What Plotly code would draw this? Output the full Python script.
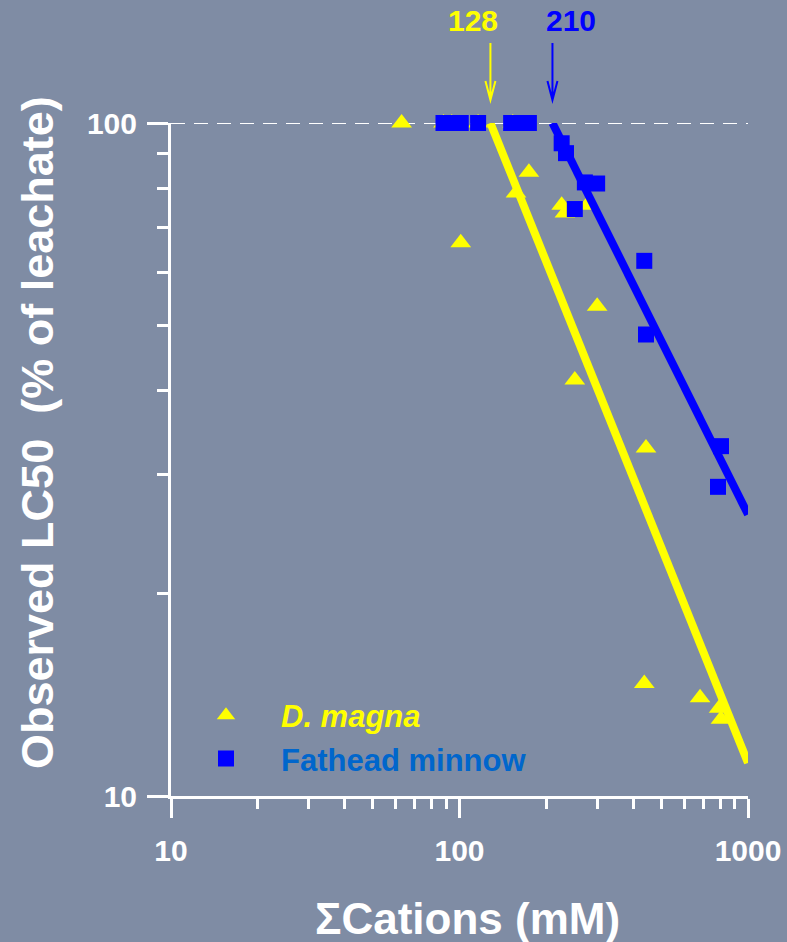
import numpy as np
import plotly.graph_objects as go

# ---------------- data ----------------
# D. magna observed LC50 (% of leachate) vs sum of cations (mM)
dm_x = [63, 88, 94, 116, 153, 101, 157, 174, 226, 232, 277, 300, 251, 443, 437, 682, 794, 806]
dm_y = [100, 100, 100, 100, 100, 66.4, 78.7, 84.5, 75.5, 73.5, 75.5, 53.4, 41.5, 32.9, 14.7, 14.0, 13.5, 13.0]

# Fathead minnow
fm_x = [88, 94, 101, 116, 151, 162, 174, 226, 234, 272, 300, 251, 437, 443, 806, 787]
fm_y = [100, 100, 100, 100, 100, 100, 100, 93.3, 90.2, 81.6, 81.3, 74.5, 62.4, 48.5, 33.1, 28.8]

# fitted lines (breakpoint -> end)
dm_fit_x = [128, 1000]
dm_fit_y = [100, 11.2]
fm_fit_x = [210, 1000]
fm_fit_y = [100, 26.2]

# breakpoints marked with arrows
break_vals = [128, 210]
break_labels = ["128", "210"]
break_colors = ["#FFFF00", "#0000FF"]
break_label_shift = [-17, 19]

x_tickvals = [10, 100, 1000]
x_ticktext = ["10", "100", "1000"]
x_minor = [20, 30, 40, 50, 60, 70, 80, 90, 200, 300, 400, 500, 600, 700, 800, 900]
y_tickvals = [10, 100]
y_ticktext = ["10", "100"]
y_minor = [20, 30, 40, 50, 60, 70, 80, 90]

x_title = "ΣCations (mM)"
y_title = "Observed LC50  (% of leachate)"

BG = "#7F8CA4"
FONT = "Liberation Sans"
YEL = "#FFFF00"
BLU = "#0000FF"

fig = go.Figure()

fig.add_trace(go.Scatter(
    x=dm_x, y=dm_y, mode="markers", cliponaxis=False,
    name="<span style='color:#FFFF00'><i>D. magna</i></span>",
    marker=dict(symbol="triangle-up", size=18, color=YEL, line=dict(width=0)),
))
fig.add_trace(go.Scatter(
    x=dm_fit_x, y=dm_fit_y, mode="lines", showlegend=False,
    line=dict(color=YEL, width=8),
))
fig.add_trace(go.Scatter(
    x=fm_x, y=fm_y, mode="markers", cliponaxis=False,
    name="<span style='color:#0066CC'>Fathead minnow</span>",
    marker=dict(symbol="square", size=16, color=BLU, line=dict(width=0)),
))
fig.add_trace(go.Scatter(
    x=fm_fit_x, y=fm_fit_y, mode="lines", showlegend=False,
    line=dict(color=BLU, width=8),
))

# dashed reference line at 100 %
fig.add_shape(type="line", xref="paper", x0=0, x1=1, yref="y", y0=100, y1=100,
              line=dict(color="white", width=2, dash="14px,9px"), layer="below")

# arrows and labels for breakpoints
for v, lab, col, sh in zip(break_vals, break_labels, break_colors, break_label_shift):
    fig.add_shape(type="path", xref="x", xsizemode="pixel", xanchor=v,
                  yref="paper", ysizemode="pixel", yanchor=1.0342,
                  path="M0,0 L0,57 M-5,19 L0,0 L5,19",
                  line=dict(color=col, width=2))
    fig.add_annotation(x=np.log10(v), xref="x", y=1.1516, yref="paper", text=lab,
                       showarrow=False, xshift=sh, xanchor="center", yanchor="middle",
                       font=dict(family=FONT, size=30, color=col, weight="bold"))

# axis titles
fig.add_annotation(x=0.5139, y=-0.1813, xref="paper", yref="paper", text=x_title,
                   showarrow=False, xanchor="center", yanchor="middle",
                   font=dict(family=FONT, size=44, color="white", weight="bold"))
fig.add_annotation(x=-0.2305, y=0.5394, xref="paper", yref="paper", text=y_title,
                   showarrow=False, xanchor="center", yanchor="middle", textangle=-90,
                   font=dict(family=FONT, size=45, color="white", weight="bold"))

axis_common = dict(
    type="log", showline=True, linecolor="white", linewidth=3,
    ticks="outside", tickwidth=3, tickcolor="white",
    showgrid=False, zeroline=False, automargin=False,
    tickfont=dict(family=FONT, size=30, color="white", weight="bold"),
)

fig.update_layout(
    template="none",
    width=787, height=942,
    margin=dict(l=171, r=39, t=123, b=146, pad=0),
    paper_bgcolor=BG, plot_bgcolor=BG,
    xaxis=dict(**axis_common, range=[1, 3], ticklen=19,
               tickvals=x_tickvals, ticktext=x_ticktext, ticklabelstandoff=7,
               minor=dict(tickvals=x_minor, ticks="outside", ticklen=10, tickwidth=3, tickcolor="white")),
    yaxis=dict(**axis_common, range=[1, 2], ticklen=21,
               tickvals=y_tickvals, ticktext=y_ticktext, ticklabelstandoff=4,
               minor=dict(tickvals=y_minor, ticks="outside", ticklen=11, tickwidth=3, tickcolor="white")),
    legend=dict(x=0.0, y=0.1595, xanchor="left", yanchor="top",
                bgcolor="rgba(0,0,0,0)", itemwidth=100, tracegroupgap=0,
                font=dict(family=FONT, size=31, color="white", weight="bold")),
    showlegend=True,
)

fig.write_html("out.html", config={"displayModeBar": False},
               post_script="document.body.style.margin='0px';")
